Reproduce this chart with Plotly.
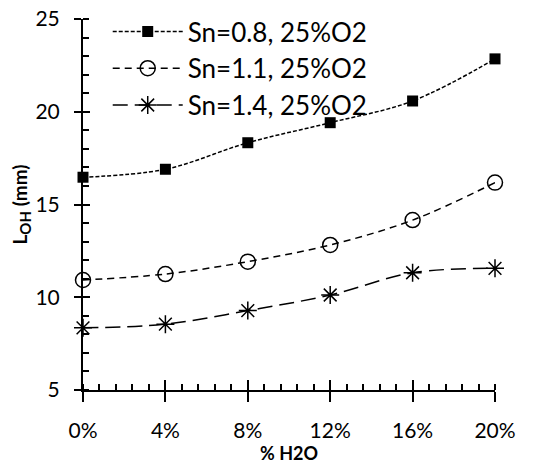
import plotly.graph_objects as go

h2o_pct = [0, 4, 8, 12, 16, 20]
x_labels = ["0%", "4%", "8%", "12%", "16%", "20%"]
y_ticks = [5, 10, 15, 20, 25]
sn08 = [16.47, 16.9, 18.33, 19.41, 20.58, 22.85]
sn11 = [10.93, 11.25, 11.92, 12.82, 14.16, 16.18]
sn14 = [8.35, 8.55, 9.28, 10.12, 11.32, 11.56]
names = ["Sn=0.8, 25%O2", "Sn=1.1, 25%O2", "Sn=1.4, 25%O2"]

FONT = "Lato"
fig = go.Figure()
fig.add_trace(go.Scatter(x=h2o_pct, y=sn08, name=names[0], mode="lines+markers",
                         line=dict(color="black", width=1.5, dash="4px,2px", shape="spline"),
                         marker=dict(symbol="square", size=11, color="black"),
                         legendgroup="a", cliponaxis=False))
fig.add_trace(go.Scatter(x=h2o_pct, y=sn11, name=names[1], mode="lines+markers",
                         line=dict(color="black", width=1.5, dash="7px,5px", shape="spline"),
                         marker=dict(symbol="circle-open", size=15, color="black",
                                     line=dict(width=1.5, color="black")),
                         legendgroup="b", cliponaxis=False))
fig.add_trace(go.Scatter(x=h2o_pct, y=sn14, name=names[2], mode="lines+markers",
                         line=dict(color="black", width=1.5, dash="15px,7px", shape="spline"),
                         marker=dict(symbol="asterisk-open", size=15, color="black",
                                     line=dict(width=1.5, color="black")),
                         legendgroup="c", cliponaxis=False))
# invisible traces so the overlay axes (crossing ticks, offset labels) are drawn
for xa, ya in [("x2", "y"), ("x", "y2"), ("x3", "y"), ("x", "y3")]:
    fig.add_trace(go.Scatter(x=h2o_pct, y=sn11, xaxis=xa, yaxis=ya, mode="markers",
                             marker=dict(opacity=0), showlegend=False, hoverinfo="skip"))

xt = dict(range=[0, 20], tickmode="array", tickvals=h2o_pct, showgrid=False, zeroline=False)
yt = dict(range=[5, 25], tickmode="array", tickvals=y_ticks, showgrid=False, zeroline=False)
fig.update_layout(
    width=548, height=470,
    margin=dict(l=75, r=61, t=11, b=88, autoexpand=False),
    paper_bgcolor="white", plot_bgcolor="white",
    font=dict(family=FONT, size=21, color="black"),
    showlegend=True,
    legend=dict(x=0.06, y=1.0, xanchor="left", yanchor="top", yref="container",
                bgcolor="rgba(0,0,0,0)",
                font=dict(size=26), itemwidth=70, tracegroupgap=0, traceorder="grouped"),
    xaxis=dict(range=[0, 20], tickmode="linear", tick0=0, dtick=4, showgrid=False,
               zeroline=False, ticks="outside", ticklen=10, tickwidth=2, tickcolor="black",
               showline=True, linecolor="black", linewidth=2, showticklabels=False,
               minor=dict(dtick=0.8, ticks="inside", ticklen=6, tickwidth=2,
                          tickcolor="black")),
    yaxis=dict(range=[5, 25], tickmode="linear", tick0=5, dtick=5, showgrid=False,
               zeroline=False, ticks="outside", ticklen=7, tickwidth=2, tickcolor="black",
               showline=True, linecolor="black", linewidth=2, showticklabels=False,
               minor=dict(dtick=1, ticks="inside", ticklen=6, tickwidth=2,
                          tickcolor="black")),
    xaxis2=dict(**xt, overlaying="x", anchor="y", side="bottom", ticks="inside", ticklen=10,
                tickwidth=2, tickcolor="black", showticklabels=False, showline=False),
    yaxis2=dict(**yt, overlaying="y", anchor="x", side="left", ticks="inside", ticklen=7,
                tickwidth=2, tickcolor="black", showticklabels=False, showline=False,
                title=dict(text="<b>L<sub><span style='font-size:15px'>OH</span></sub> (mm)</b>",
                           font=dict(size=19), standoff=54)),
    xaxis3=dict(**xt, ticktext=x_labels, overlaying="x", anchor="y", side="bottom",
                ticks="outside", ticklen=22, tickcolor="rgba(0,0,0,0)", showline=False,
                title=dict(text="<b>% H2O</b>", font=dict(size=18), standoff=0)),
    yaxis3=dict(**yt, overlaying="y", anchor="x", side="left", ticks="outside", ticklen=18,
                tickcolor="rgba(0,0,0,0)", showline=False, ticklabeloverflow="allow"),
)
fig.write_html("out.html")
